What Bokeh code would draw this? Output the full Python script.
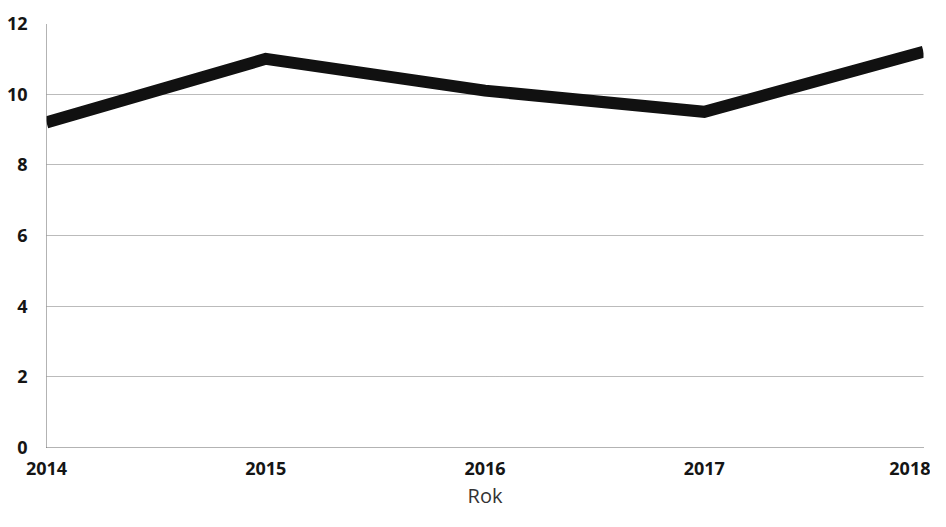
from bokeh.plotting import figure
from bokeh.models import Range1d, FixedTicker
from bokeh.embed import file_html
from bokeh.resources import INLINE

years = [2014, 2015, 2016, 2017, 2018]
values = [9.2, 11.0, 10.1, 9.5, 11.2]
y_ticks = [0, 2, 4, 6, 8, 10, 12]
x_label = "Rok"

p = figure(width=930, height=511, output_backend="svg", toolbar_location=None,
           x_range=Range1d(2014, 2018), y_range=Range1d(0, 12),
           min_border_left=46, min_border_top=23, min_border_right=7, min_border_bottom=62)
p.outline_line_color = None
p.background_fill_color = "white"
p.border_fill_color = "white"

p.line(years, values, line_color="#111111", line_width=12, line_join="miter")

p.xaxis.ticker = FixedTicker(ticks=years)
p.yaxis.ticker = FixedTicker(ticks=y_ticks)
p.xaxis.axis_label = x_label
p.xaxis.axis_label_text_font = "Open Sans"
p.xaxis.axis_label_text_font_style = "normal"
p.xaxis.axis_label_text_font_size = "20px"
p.xaxis.axis_label_text_color = "#333333"
p.xaxis.axis_label_standoff = 4

for ax in (p.xaxis, p.yaxis):
    ax.major_tick_line_color = None
    ax.minor_tick_line_color = None
    ax.major_label_text_font = "Open Sans"
    ax.major_label_text_font_size = "18px"
    ax.major_label_text_font_style = "bold"
    ax.major_label_text_color = "#151515"
    ax.axis_line_color = "#666666"
    ax.axis_line_dash = "1 1"
    ax.axis_line_width = 1

p.xaxis.major_label_standoff = 8
p.yaxis.major_label_standoff = 13

p.xgrid.grid_line_color = None
p.ygrid.grid_line_color = "#777777"
p.ygrid.grid_line_dash = "1 1"
p.ygrid.grid_line_width = 1

open("out.html", "w").write(file_html(p, INLINE))
